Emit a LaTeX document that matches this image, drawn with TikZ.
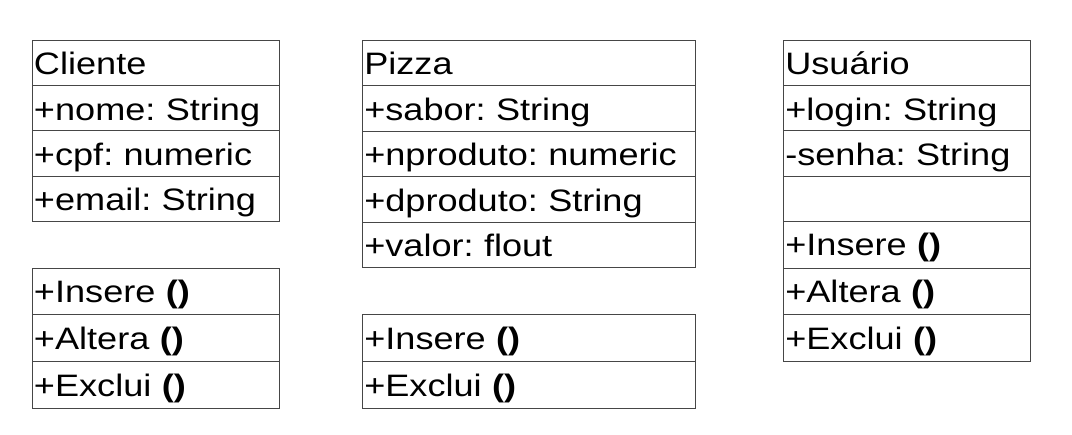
\documentclass[tikz,border=0pt]{standalone}
\usepackage{fontspec}
\setmainfont{Liberation Sans}[FakeStretch=1.165]
\definecolor{edge}{RGB}{70,70,70}
\tikzset{
  cell/.style={draw=edge, line width=1pt, anchor=north west,
    inner xsep=1.5pt, inner ysep=0pt, align=left, text height=34.5pt,
    font=\fontsize{31}{36}\selectfont},
  narrow/.style={cell, text width=244pt},
  wide/.style={cell, text width=330pt},
  attrrow/.style={text depth=10.7pt},
  methrow/.style={text depth=12.3pt},
}
\newcommand{\op}[1]{#1 \textbf{()}}
\frenchspacing
\begin{document}
\begin{tikzpicture}[x=1pt,y=-1pt]
\useasboundingbox (0,0) rectangle (1072,435);
% Cliente
\node[narrow, attrrow] (c0) at (32,40) {Cliente};
\node[narrow, attrrow] (c1) at (32,85.25) {+nome: String};
\node[narrow, attrrow] (c2) at (32,130.5) {+cpf: numeric};
\node[narrow, attrrow] (c3) at (32,175.75) {+email: String};
\node[narrow, methrow] (c4) at (32,267.7) {\op{+Insere}};
\node[narrow, methrow] (c5) at (32,314.5) {\op{+Altera}};
\node[narrow, methrow] (c6) at (32,361.3) {\op{+Exclui}};
% Pizza
\node[wide, attrrow] (p0) at (362.3,40) {Pizza};
\node[wide, attrrow] (p1) at (362.3,85.5) {+sabor: String};
\node[wide, attrrow] (p2) at (362.3,131) {+nproduto: numeric};
\node[wide, attrrow] (p3) at (362.3,176.4) {+dproduto: String};
\node[wide, attrrow] (p4) at (362.3,221.8) {+valor: flout};
\node[wide, methrow] (p5) at (362.3,314.3) {\op{+Insere}};
\node[wide, methrow] (p6) at (362.3,361.3) {\op{+Exclui}};
% Usuario
\node[narrow, attrrow] (u0) at (783.3,40) {Usuário};
\node[narrow, attrrow] (u1) at (783.3,85.2) {+login: String};
\node[narrow, attrrow] (u2) at (783.3,130.4) {-senha: String};
\node[narrow, attrrow] (u3) at (783.3,175.6) {};
\node[narrow, methrow] (u4) at (783.3,220.8) {\op{+Insere}};
\node[narrow, methrow] (u5) at (783.3,267.6) {\op{+Altera}};
\node[narrow, methrow] (u6) at (783.3,314.4) {\op{+Exclui}};
\end{tikzpicture}
\end{document}
